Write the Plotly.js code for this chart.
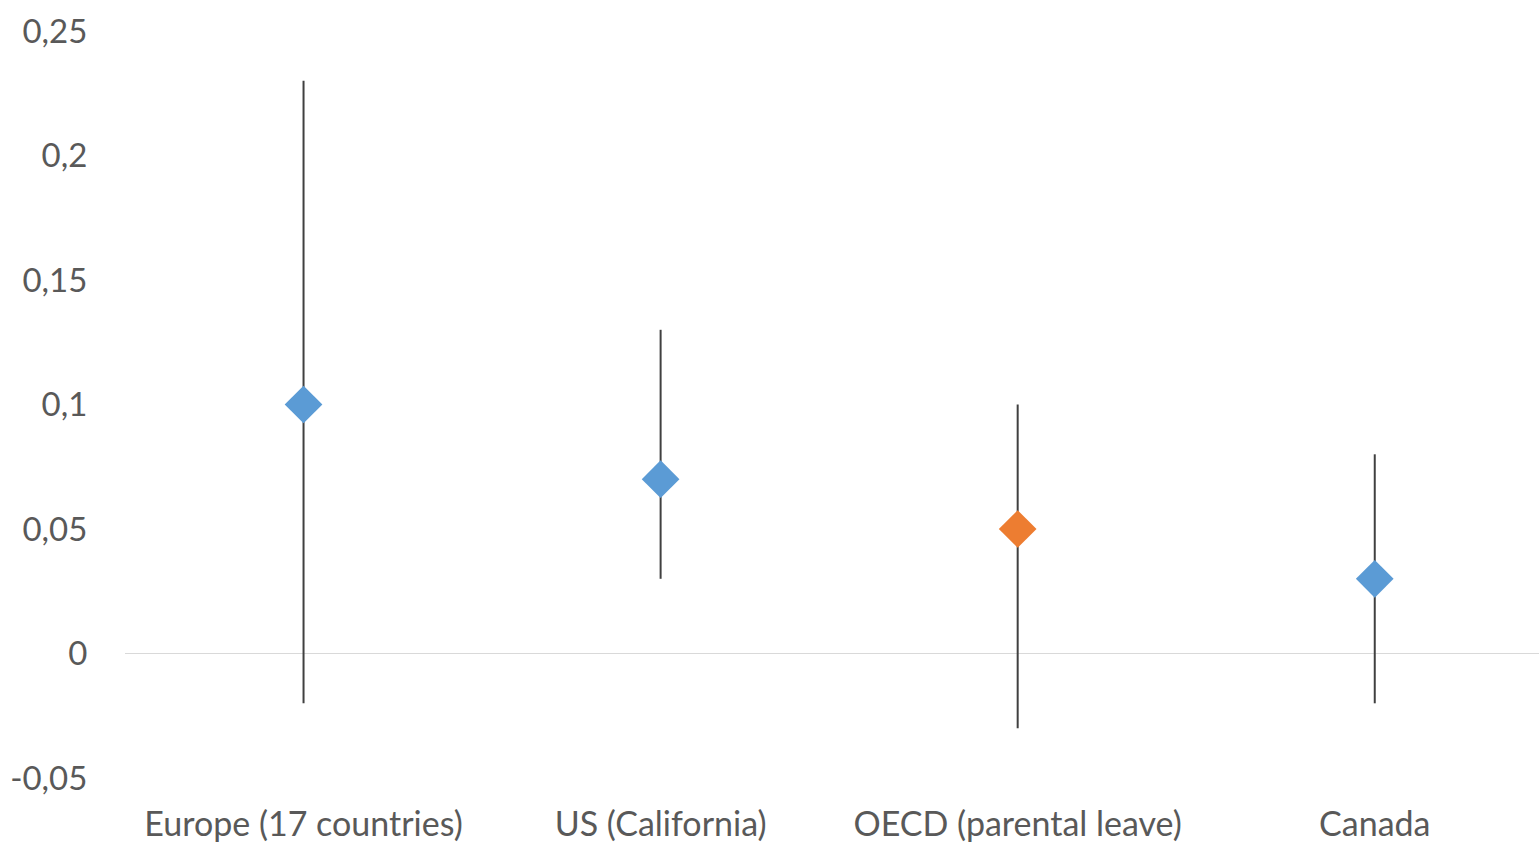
<!DOCTYPE html>
<html>
<head>
<meta charset="utf-8">
<script src="https://cdn.plot.ly/plotly-3.0.1.min.js"></script>
<style>html,body{margin:0;padding:0;background:#fff;}#chart{width:1539px;height:844px;}</style>
</head>
<body>
<div id="chart"></div>
<script>
const categories = ["Europe (17 countries)", "US (California)", "OECD (parental leave)", "Canada"];
const estimates = [0.10, 0.07, 0.05, 0.03];
const upperBounds = [0.23, 0.13, 0.10, 0.08];
const lowerBounds = [-0.02, 0.03, -0.03, -0.02];
const highlighted = [false, false, true, false];
const yTickVals = [-0.05, 0, 0.05, 0.1, 0.15, 0.2, 0.25];
const yTickText = ["-0,05", "0", "0,05", "0,1", "0,15", "0,2", "0,25"];

function buildTrace(flag, color) {
  const idx = categories.map((c, i) => i).filter(i => highlighted[i] === flag);
  return {
    type: "scatter",
    mode: "markers",
    x: idx.map(i => categories[i]),
    y: idx.map(i => estimates[i]),
    error_y: {
      type: "data",
      symmetric: false,
      array: idx.map(i => upperBounds[i] - estimates[i]),
      arrayminus: idx.map(i => estimates[i] - lowerBounds[i]),
      color: "#404040",
      thickness: 2,
      width: 0
    },
    marker: {symbol: "diamond", size: 29, color: color},
    hoverinfo: "x+y",
    showlegend: false
  };
}

const data = [buildTrace(false, "#5b9bd5"), buildTrace(true, "#ed7d31")];

const layout = {
  width: 1539,
  height: 844,
  margin: {l: 125, r: 0, t: 31, b: 66},
  paper_bgcolor: "#ffffff",
  plot_bgcolor: "#ffffff",
  font: {family: "Lato, 'Open Sans', sans-serif", size: 33, color: "#595959"},
  xaxis: {
    type: "category",
    categoryorder: "array",
    categoryarray: categories,
    range: [-0.5, 3.46],
    showgrid: false,
    zeroline: false,
    showline: false,
    ticks: "outside",
    ticklen: 16,
    tickcolor: "rgba(0,0,0,0)",
    tickfont: {size: 34, color: "#595959"}
  },
  yaxis: {
    range: [-0.05, 0.25],
    tickvals: yTickVals,
    ticktext: yTickText,
    showgrid: false,
    zeroline: true,
    zerolinecolor: "#d9d9d9",
    zerolinewidth: 1.5,
    showline: false,
    ticks: "outside",
    ticklen: 30,
    tickcolor: "rgba(0,0,0,0)",
    tickfont: {size: 33, color: "#595959"}
  }
};

Plotly.newPlot("chart", data, layout, {displayModeBar: false, staticPlot: true});
</script>
</body>
</html>
